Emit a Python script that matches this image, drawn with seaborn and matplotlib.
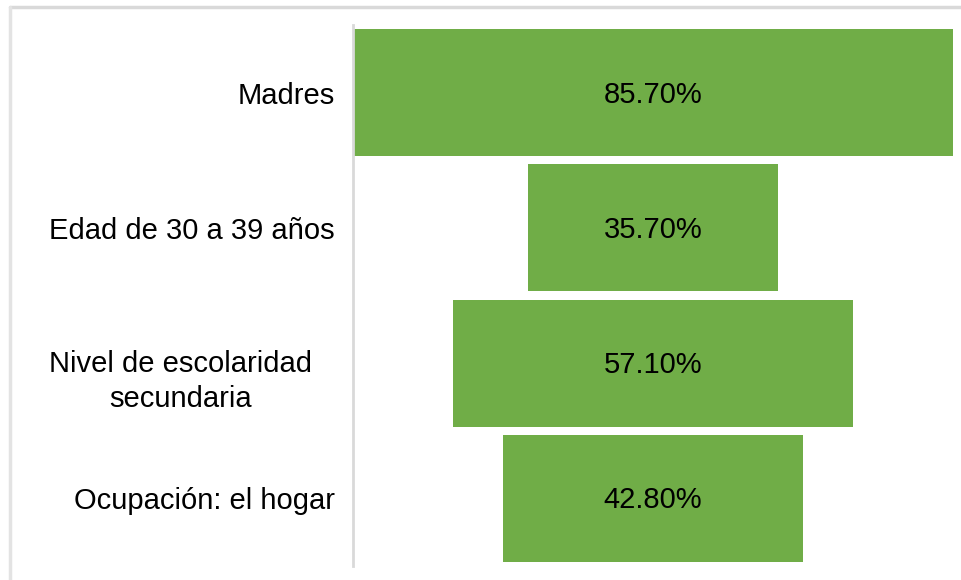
import matplotlib
matplotlib.use("Agg")
import matplotlib.pyplot as plt
import matplotlib.transforms as mtransforms
from matplotlib.lines import Line2D
import seaborn as sns
import pandas as pd

categories = ["Madres", "Edad de 30 a 39 años",
              "Nivel de escolaridad\nsecundaria", "Ocupación: el hogar"]
values = [85.7, 35.7, 57.1, 42.8]

sns.set_theme(style="white")
plt.rcParams['font.family'] = ['Liberation Sans', 'DejaVu Sans']

df = pd.DataFrame({"cat": categories, "val": values})

fig = plt.figure(figsize=(9.61, 5.8), dpi=100)
ax = fig.add_axes([353 / 961, 1 - 566 / 580, 600 / 961, 541 / 580])

sns.barplot(data=df, x="val", y="cat", color="#70AD47", saturation=1,
            width=0.94, linewidth=0, ax=ax)

# funnel: center every bar on zero
for p, v in zip(ax.patches, values):
    p.set_x(-p.get_width() / 2)
    ax.text(0, p.get_y() + p.get_height() / 2 + 0.015, f"{v:.2f}%",
            ha="center", va="center", fontsize=21, color="black")

half = max(values) / 2
ax.set_xlim(-half, half)
ax.set_ylim(len(categories) - 0.5, -0.5)
ax.set_xlabel("")
ax.set_ylabel("")
ax.set_xticks([])
ax.tick_params(axis="y", length=0, pad=13, labelsize=21, labelcolor="black")
for lab in ax.get_yticklabels():
    lab.set_multialignment("center")
    if "\n" in lab.get_text():
        lab.set_linespacing(1.3)
        lab.set_transform(lab.get_transform() +
                          mtransforms.ScaledTranslation(-0.23, -0.12, fig.dpi_scale_trans))

for s in ["top", "right", "bottom"]:
    ax.spines[s].set_visible(False)
ax.spines["left"].set_color("#d9d9d9")
ax.spines["left"].set_linewidth(2)

# outer chart frame (partly cropped)
fig.add_artist(Line2D([10 / 961, 1.0], [1 - 7 / 580, 1 - 7 / 580],
                      color="#d9d9d9", lw=2.5, transform=fig.transFigure))
fig.add_artist(Line2D([10 / 961, 10 / 961], [0.0, 1 - 7 / 580],
                      color="#e3e3e3", lw=2.5, transform=fig.transFigure))

fig.savefig("out.png", dpi=100)
